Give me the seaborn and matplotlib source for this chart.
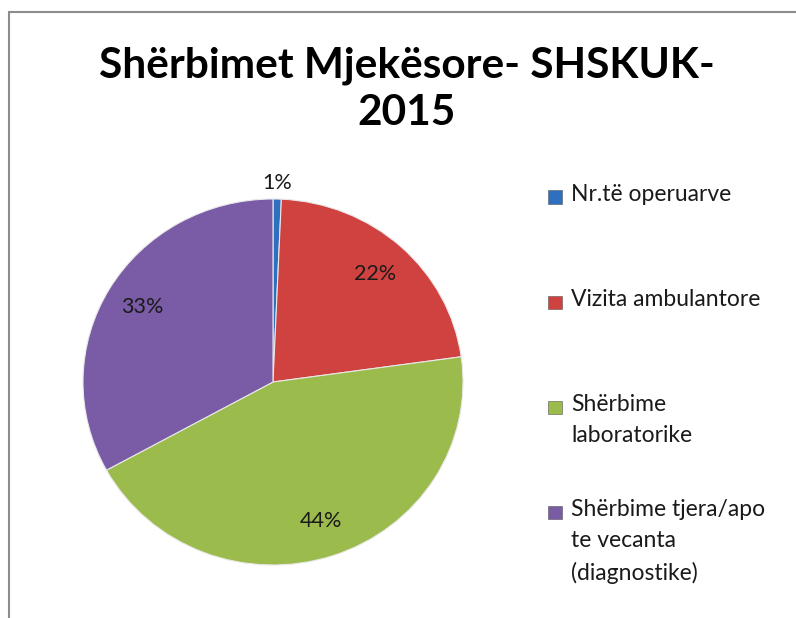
import numpy as np
import pandas as pd
import seaborn as sns
import matplotlib.pyplot as plt
from matplotlib.patches import Rectangle
from matplotlib.lines import Line2D

# data (shares in percent)
categories = ["Nr.të operuarve", "Vizita ambulantore", "Shërbime laboratorike",
              "Shërbime tjera/apo te vecanta (diagnostike)"]
legend_labels = ["Nr.të operuarve", "Vizita ambulantore", "Shërbime\nlaboratorike",
                 "Shërbime tjera/apo\nte vecanta\n(diagnostike)"]
shares = [0.7, 22.1, 44.2, 33.0]
colors = ["#2f6fc0", "#d0423f", "#9bbb4c", "#7a5ba5"]

df = pd.DataFrame({"category": categories, "share": shares})

sns.set_theme(style="white")
plt.rcParams['font.family'] = ['Lato', 'DejaVu Sans']

W, H = 796, 618
fig = plt.figure(figsize=(W / 100, H / 100), dpi=100)

# pie axes: centre at (273, 382) px, radius ~190 x 183 px
cx, cy, rx, ry = 273, 382, 190, 183
aw, ah = 2.5 * rx, 2.5 * ry
ax = fig.add_axes([(cx - aw / 2) / W, (H - cy - ah / 2) / H, aw / W, ah / H])

wedges, texts, autotexts = ax.pie(
    df["share"], colors=colors, startangle=90, counterclock=False,
    autopct='%1.0f%%', pctdistance=0.8,
    wedgeprops=dict(edgecolor="#e8e8e8", linewidth=0.8),
    textprops=dict(fontsize=15.5, color="#1a1a1a"))
ax.set_aspect('auto')
ax.set_xlim(-1.25, 1.25)
ax.set_ylim(-1.25, 1.25)
ax.axis('off')

# small slice label sits outside the pie
w0 = wedges[0]
mid = np.deg2rad((w0.theta1 + w0.theta2) / 2)
autotexts[0].set_position((1.09 * np.cos(mid), 1.09 * np.sin(mid)))

# title
fig.text(407 / W, 1 - 89 / H, "Shërbimet Mjekësore- SHSKUK-\n2015",
         ha="center", va="center", fontsize=30.5, fontweight="bold",
         color="black", linespacing=1.3)

# legend drawn by hand to keep Excel-like spacing
x_box, x_text = 548, 571
y0, step = 197, 105
for i, (lab, col) in enumerate(zip(legend_labels, colors)):
    y = y0 + i * step
    fig.add_artist(Rectangle((x_box / W, 1 - (y + 6.5) / H), 14 / W, 13 / H,
                             transform=fig.transFigure, facecolor=col,
                             edgecolor="#555555", linewidth=0.4))
    fig.text(x_text / W, 1 - (y - 13) / H, lab, ha="left", va="top",
             fontsize=16.5, color="#1a1a1a", linespacing=1.6)

# chart area border (cropped on right/bottom)
fig.add_artist(Line2D([9 / W, 1.0], [1 - 12 / H, 1 - 12 / H],
                      transform=fig.transFigure, color="#8c8c8c", linewidth=1.5))
fig.add_artist(Line2D([9 / W, 9 / W], [1 - 12 / H, 0.0],
                      transform=fig.transFigure, color="#8c8c8c", linewidth=1.5))

fig.savefig("out.png", dpi=100)
